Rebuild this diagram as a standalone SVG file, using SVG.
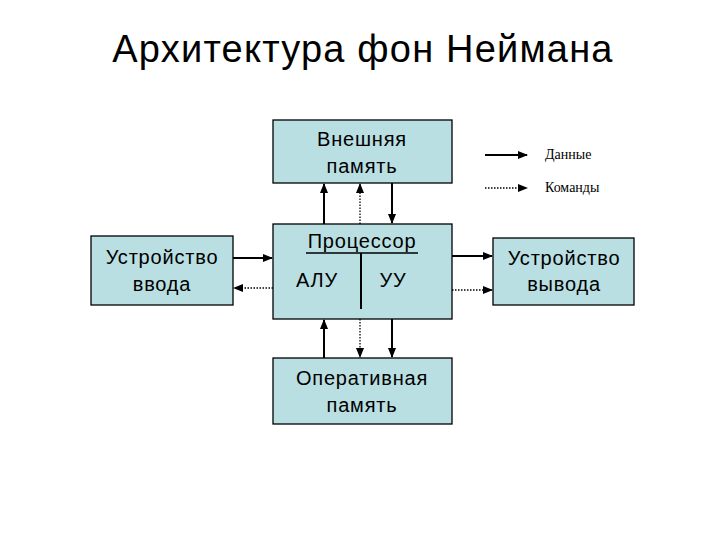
<svg xmlns="http://www.w3.org/2000/svg" width="720" height="540" viewBox="0 0 720 540">
<style>
.box{fill:#b9dfe2;stroke:#000;stroke-width:1.3}
.t{font-family:"Liberation Sans",Arial,sans-serif;font-size:20px;fill:#000;text-anchor:middle;letter-spacing:0.8px}
.title{font-family:"Liberation Sans",Arial,sans-serif;font-size:38px;fill:#000;text-anchor:middle;letter-spacing:1.2px}
.leg{font-family:"Liberation Serif","Times New Roman",serif;font-size:14px;fill:#000}
.s{stroke:#000;stroke-width:2;fill:none;marker-end:url(#ah)}
.d{stroke:#000;stroke-width:1.3;stroke-dasharray:1.5 1.5;fill:none;marker-end:url(#ah)}
</style>
<defs>
<marker id="ah" markerWidth="10" markerHeight="8" refX="9" refY="4" orient="auto" markerUnits="userSpaceOnUse">
<path d="M0,0 L10,4 L0,8 Z" fill="#000"/>
</marker>
</defs>
<rect width="720" height="540" fill="#fff"/>
<text class="title" x="363" y="62">Архитектура фон Неймана</text>

<g id="ext-mem">
<rect class="box" x="273" y="120" width="179" height="63"/>
<text class="t" x="362" y="146">Внешняя</text>
<text class="t" x="362" y="173">память</text>
</g>
<g id="cpu">
<rect class="box" x="273" y="224" width="179" height="95"/>
<text class="t" x="362" y="248">Процессор</text>
<line x1="306" y1="253" x2="418" y2="253" stroke="#000" stroke-width="1.3"/>
<line x1="361" y1="253" x2="361" y2="309" stroke="#000" stroke-width="2"/>
<text class="t" x="317" y="287">АЛУ</text>
<text class="t" x="393" y="287">УУ</text>
</g>
<g id="input">
<rect class="box" x="91" y="236" width="142" height="69"/>
<text class="t" x="162" y="264">Устройство</text>
<text class="t" x="162" y="291">ввода</text>
</g>
<g id="output">
<rect class="box" x="493" y="238" width="141" height="67"/>
<text class="t" x="564" y="265">Устройство</text>
<text class="t" x="564" y="291">вывода</text>
</g>
<g id="ram">
<rect class="box" x="273" y="358" width="179" height="66"/>
<text class="t" x="362" y="385">Оперативная</text>
<text class="t" x="362" y="412">память</text>
</g>
<g id="legend">
<text class="leg" x="545" y="159">Данные</text>
<text class="leg" x="545" y="192">Команды</text>
</g>
<g id="connectors">
<line class="s" x1="324" y1="224" x2="324" y2="184"/>
<line class="d" x1="360" y1="224" x2="360" y2="184"/>
<line class="s" x1="392" y1="183" x2="392" y2="223"/>
<line class="s" x1="324" y1="358" x2="324" y2="320"/>
<line class="d" x1="360" y1="319" x2="360" y2="357"/>
<line class="s" x1="392" y1="319" x2="392" y2="357"/>
<line class="s" x1="233" y1="258" x2="272" y2="258"/>
<line class="d" x1="273" y1="288" x2="234" y2="288"/>
<line class="s" x1="452" y1="256" x2="492" y2="256"/>
<line class="d" x1="452" y1="290" x2="492" y2="290"/>
<line class="s" x1="485" y1="155" x2="527" y2="155"/>
<line class="d" x1="485" y1="188" x2="527" y2="188"/>
</g>
</svg>
